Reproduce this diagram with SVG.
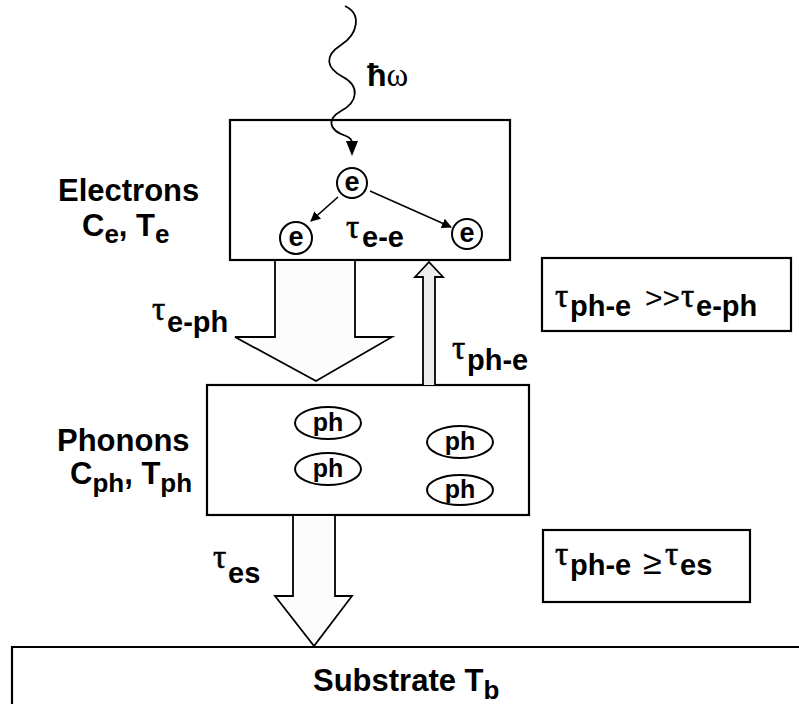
<svg xmlns="http://www.w3.org/2000/svg" width="799" height="704" viewBox="0 0 799 704">
<defs>
<style>
.box{fill:#fff;stroke:#000;stroke-width:2.2}
.ln{fill:none;stroke:#000;stroke-width:1.6}
.bar{stroke:#000;stroke-width:1.8;stroke-linejoin:miter}
.lab{font-family:"Liberation Sans",Arial,sans-serif;font-weight:bold;font-size:31px;fill:#000}
.sb{font-size:26px}
.tau{font-family:"Liberation Serif","Times New Roman",serif;font-weight:normal;font-size:33px;stroke:#000;stroke-width:0.6}
.ts{font-family:"Liberation Sans",Arial,sans-serif;font-weight:bold;font-size:29px}
.sym{font-family:"Liberation Sans",Arial,sans-serif;font-weight:normal;font-size:30px}
.ee{font-family:"Liberation Sans",Arial,sans-serif;font-weight:bold;font-size:27px;text-anchor:middle}
.ph{font-family:"Liberation Sans",Arial,sans-serif;font-weight:bold;font-size:25px;text-anchor:middle}
</style>
<marker id="ah" viewBox="0 0 10 10" refX="9" refY="5" markerWidth="10" markerHeight="10" markerUnits="userSpaceOnUse" orient="auto">
<path d="M0,0 L10,5 L0,10 z" fill="#000"/>
</marker>
</defs>

<g id="substrate">
<path class="ln" d="M12,704 V647 H799" style="stroke-width:2.2"/>
<text class="lab" x="313" y="691">Substrate T<tspan class="sb" dy="8">b</tspan></text>
</g>

<g id="electrons">
<rect class="box" x="230" y="120" width="280" height="140"/>
<circle class="ln" cx="352" cy="183" r="15" style="stroke-width:2"/>
<text class="ee" x="352" y="191">e</text>
<circle class="ln" cx="296" cy="238" r="16" style="stroke-width:2"/>
<text class="ee" x="296" y="246">e</text>
<circle class="ln" cx="467" cy="234" r="15" style="stroke-width:2"/>
<text class="ee" x="467" y="242">e</text>
<text class="lab"><tspan class="tau" x="346" y="238">τ</tspan><tspan class="ts" x="362" y="247">e-e</tspan></text>
</g>

<g id="electrons-label">
<text class="lab" x="58" y="201">Electrons</text>
<text class="lab" x="82" y="236">C<tspan class="sb" dy="7">e</tspan><tspan dy="-7">, T</tspan><tspan class="sb" dy="7">e</tspan></text>
</g>

<g id="phonons">
<rect class="box" x="207" y="385" width="322" height="130"/>
<ellipse class="ln" cx="328" cy="423" rx="33" ry="16" style="stroke-width:2"/>
<text class="ph" x="328" y="431">ph</text>
<ellipse class="ln" cx="328" cy="469" rx="33" ry="16" style="stroke-width:2"/>
<text class="ph" x="328" y="477">ph</text>
<ellipse class="ln" cx="460" cy="442" rx="33" ry="16" style="stroke-width:2"/>
<text class="ph" x="460" y="450">ph</text>
<ellipse class="ln" cx="460" cy="490" rx="33" ry="15" style="stroke-width:2"/>
<text class="ph" x="460" y="498">ph</text>
</g>

<g id="phonons-label">
<text class="lab" x="57" y="451">Phonons</text>
<text class="lab" x="70" y="484">C<tspan class="sb" dy="8">ph</tspan><tspan dy="-8">, T</tspan><tspan class="sb" dy="8">ph</tspan></text>
</g>

<g id="relation1">
<rect class="box" x="542" y="258" width="249" height="73"/>
<text class="lab"><tspan class="tau" x="555" y="307">τ</tspan><tspan class="ts" x="570" y="316">ph-e</tspan><tspan class="sym" x="645" y="308">&gt;&gt;</tspan><tspan class="tau" x="681" y="307">τ</tspan><tspan class="ts" x="696" y="316">e-ph</tspan></text>
</g>

<g id="relation2">
<rect class="box" x="543" y="530" width="207" height="72"/>
<text class="lab"><tspan class="tau" x="555" y="565">τ</tspan><tspan class="ts" x="570" y="575">ph-e</tspan><tspan class="sym" x="643" y="574" style="font-size:34px">≥</tspan><tspan class="tau" x="665" y="565">τ</tspan><tspan class="ts" x="680" y="575">es</tspan></text>
</g>

<g id="connectors">
<path class="ln" d="M345,6 C362,14 358,34 341,45 C324,56 326,68 343,77 C360,86 358,102 341,111 C327,119 328,130 346,136 C351,138 352,140 352,143" style="stroke-width:1.8"/>
<path d="M346,141 L358,141 L352,156 z" fill="#000"/>
<line class="ln" x1="338" y1="197" x2="311" y2="221" marker-end="url(#ah)"/>
<line class="ln" x1="370" y1="191" x2="451" y2="227" marker-end="url(#ah)"/>
<path class="bar" d="M275,261 V337 H235 L316,381 L392,337 H355 V261" fill="#fcfcfc"/>
<path class="bar" d="M423,385 V277 H415 L429,262 L443,277 H435 V385" fill="#ececec"/>
<path class="bar" d="M293,516 V596 H275 L314,646 L352,596 H335 V516" fill="#fcfcfc"/>
<text class="lab"><tspan class="tau" x="152" y="320">τ</tspan><tspan class="ts" x="167" y="332">e-ph</tspan></text>
<text class="lab"><tspan class="tau" x="452" y="359">τ</tspan><tspan class="ts" x="467" y="370">ph-e</tspan></text>
<text class="lab"><tspan class="tau" x="213" y="568">τ</tspan><tspan class="ts" x="228" y="583">es</tspan></text>
<text class="lab" style="font-size:32px"><tspan x="367" y="86">ħ</tspan><tspan class="tau" style="stroke-width:0">ω</tspan></text>
</g>
</svg>
